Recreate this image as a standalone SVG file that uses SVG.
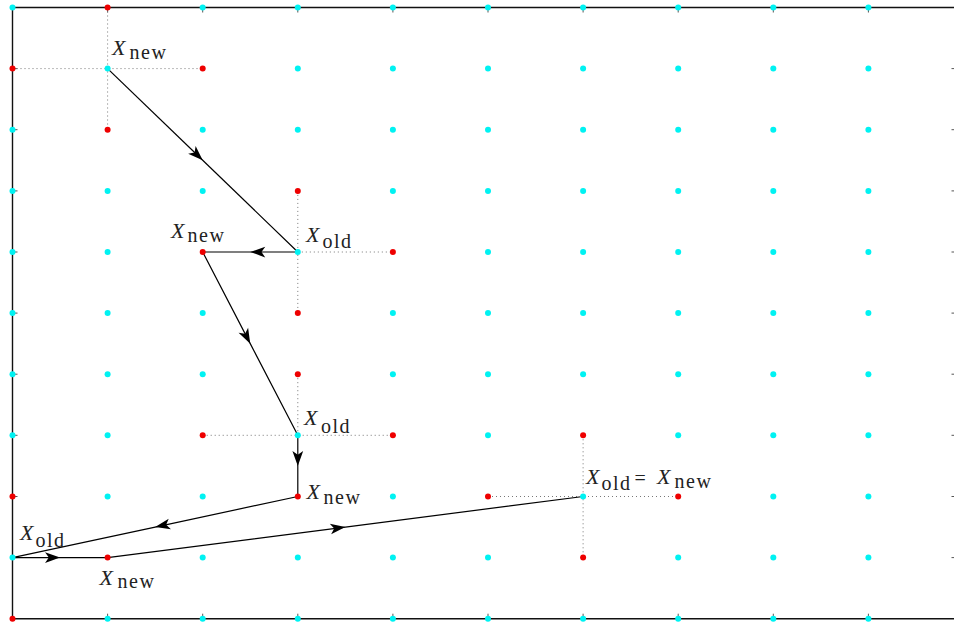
<svg xmlns="http://www.w3.org/2000/svg" width="954" height="623" viewBox="0 0 954 623">
<style>
.ax{stroke:#111;stroke-width:1.4;fill:none}
.tk{stroke:#555;stroke-width:1;fill:none}
.dot{stroke:#777;stroke-width:1;stroke-dasharray:1 3;fill:none}
.c{fill:#00f2f2}
.r{fill:#ee0000}
.ar{stroke:#000;stroke-width:1.2;fill:none;marker-mid:url(#ah)}
.X{font-style:italic;font-size:22px}
.s{letter-spacing:1.5px}
</style>
<defs>
<marker id="ah" markerUnits="userSpaceOnUse" markerWidth="20" markerHeight="20" viewBox="-14 -7 16 14" refX="0" refY="0" orient="auto" overflow="visible">
<path d="M0,0 L-12,-4.3 L-9,0 L-12,4.3 Z" fill="#000"/>
</marker>
</defs>
<rect width="954" height="623" fill="#fff"/>
<g id="axes">
<path class="ax" d="M12.5,7.5 H954 M12.5,7.5 V618.7 M12.5,618.7 H954"/>
<path class="tk" d="M12.5,68.6h5M12.5,129.7h5M12.5,190.9h5M12.5,252h5M12.5,313.1h5M12.5,374.2h5M12.5,435.3h5M12.5,496.5h5M12.5,557.6h5
M951.5,68.6h3M951.5,129.7h3M951.5,190.9h3M951.5,252h3M951.5,313.1h3M951.5,374.2h3M951.5,435.3h3M951.5,496.5h3M951.5,557.6h3
M107.6,7.5v5M202.7,7.5v5M297.8,7.5v5M392.9,7.5v5M488,7.5v5M583.1,7.5v5M678.2,7.5v5M773.3,7.5v5M868.4,7.5v5
M107.6,618.7v-5M202.7,618.7v-5M297.8,618.7v-5M392.9,618.7v-5M488,618.7v-5M583.1,618.7v-5M678.2,618.7v-5M773.3,618.7v-5M868.4,618.7v-5"/>
</g>
<g id="neighbour-lines">
<path class="dot" d="M107.6,7.5V129.7M12.5,68.6H202.7"/>
<path class="dot" d="M297.8,190.9V313.1M297.8,252H392.9"/>
<path class="dot" d="M297.8,374.2V435.3M202.7,435.3H392.9"/>
<path class="dot" d="M583.1,435.3V557.6M488,496.5H678.2"/>
</g>
<g id="connectors">
<path class="ar" d="M107.6,68.6 L202.7,160.3 L297.8,252"/>
<path class="ar" d="M297.8,252 L250.25,252 L202.7,252"/>
<path class="ar" d="M202.7,252 L250.25,343.65 L297.8,435.3"/>
<path class="ar" d="M297.8,435.3 L297.8,465.9 L297.8,496.5"/>
<path class="ar" d="M297.8,496.5 L155.15,527.05 L12.5,557.6"/>
<path class="ar" d="M12.5,557.6 L60.05,557.6 L107.6,557.6"/>
<path class="ar" d="M107.6,557.6 L345.35,527.05 L583.1,496.5"/>
</g>
<g id="grid-points">
<g class="c">
<circle cx="12.5" cy="7.5" r="3"/><circle cx="202.7" cy="7.5" r="3"/><circle cx="297.8" cy="7.5" r="3"/><circle cx="392.9" cy="7.5" r="3"/><circle cx="488" cy="7.5" r="3"/><circle cx="583.1" cy="7.5" r="3"/><circle cx="678.2" cy="7.5" r="3"/><circle cx="773.3" cy="7.5" r="3"/><circle cx="868.4" cy="7.5" r="3"/>
<circle cx="107.6" cy="68.6" r="3"/><circle cx="297.8" cy="68.6" r="3"/><circle cx="392.9" cy="68.6" r="3"/><circle cx="488" cy="68.6" r="3"/><circle cx="583.1" cy="68.6" r="3"/><circle cx="678.2" cy="68.6" r="3"/><circle cx="773.3" cy="68.6" r="3"/><circle cx="868.4" cy="68.6" r="3"/>
<circle cx="12.5" cy="129.7" r="3"/><circle cx="202.7" cy="129.7" r="3"/><circle cx="297.8" cy="129.7" r="3"/><circle cx="392.9" cy="129.7" r="3"/><circle cx="488" cy="129.7" r="3"/><circle cx="583.1" cy="129.7" r="3"/><circle cx="678.2" cy="129.7" r="3"/><circle cx="773.3" cy="129.7" r="3"/><circle cx="868.4" cy="129.7" r="3"/>
<circle cx="12.5" cy="190.9" r="3"/><circle cx="107.6" cy="190.9" r="3"/><circle cx="202.7" cy="190.9" r="3"/><circle cx="392.9" cy="190.9" r="3"/><circle cx="488" cy="190.9" r="3"/><circle cx="583.1" cy="190.9" r="3"/><circle cx="678.2" cy="190.9" r="3"/><circle cx="773.3" cy="190.9" r="3"/><circle cx="868.4" cy="190.9" r="3"/>
<circle cx="12.5" cy="252" r="3"/><circle cx="107.6" cy="252" r="3"/><circle cx="297.8" cy="252" r="3"/><circle cx="488" cy="252" r="3"/><circle cx="583.1" cy="252" r="3"/><circle cx="678.2" cy="252" r="3"/><circle cx="773.3" cy="252" r="3"/><circle cx="868.4" cy="252" r="3"/>
<circle cx="12.5" cy="313.1" r="3"/><circle cx="107.6" cy="313.1" r="3"/><circle cx="202.7" cy="313.1" r="3"/><circle cx="392.9" cy="313.1" r="3"/><circle cx="488" cy="313.1" r="3"/><circle cx="583.1" cy="313.1" r="3"/><circle cx="678.2" cy="313.1" r="3"/><circle cx="773.3" cy="313.1" r="3"/><circle cx="868.4" cy="313.1" r="3"/>
<circle cx="12.5" cy="374.2" r="3"/><circle cx="107.6" cy="374.2" r="3"/><circle cx="202.7" cy="374.2" r="3"/><circle cx="392.9" cy="374.2" r="3"/><circle cx="488" cy="374.2" r="3"/><circle cx="583.1" cy="374.2" r="3"/><circle cx="678.2" cy="374.2" r="3"/><circle cx="773.3" cy="374.2" r="3"/><circle cx="868.4" cy="374.2" r="3"/>
<circle cx="12.5" cy="435.3" r="3"/><circle cx="107.6" cy="435.3" r="3"/><circle cx="297.8" cy="435.3" r="3"/><circle cx="488" cy="435.3" r="3"/><circle cx="678.2" cy="435.3" r="3"/><circle cx="773.3" cy="435.3" r="3"/><circle cx="868.4" cy="435.3" r="3"/>
<circle cx="107.6" cy="496.5" r="3"/><circle cx="202.7" cy="496.5" r="3"/><circle cx="392.9" cy="496.5" r="3"/><circle cx="583.1" cy="496.5" r="3"/><circle cx="773.3" cy="496.5" r="3"/><circle cx="868.4" cy="496.5" r="3"/>
<circle cx="12.5" cy="557.6" r="3"/><circle cx="202.7" cy="557.6" r="3"/><circle cx="297.8" cy="557.6" r="3"/><circle cx="392.9" cy="557.6" r="3"/><circle cx="488" cy="557.6" r="3"/><circle cx="678.2" cy="557.6" r="3"/><circle cx="773.3" cy="557.6" r="3"/><circle cx="868.4" cy="557.6" r="3"/>
<circle cx="107.6" cy="618.7" r="3"/><circle cx="202.7" cy="618.7" r="3"/><circle cx="297.8" cy="618.7" r="3"/><circle cx="392.9" cy="618.7" r="3"/><circle cx="488" cy="618.7" r="3"/><circle cx="583.1" cy="618.7" r="3"/><circle cx="678.2" cy="618.7" r="3"/><circle cx="773.3" cy="618.7" r="3"/><circle cx="868.4" cy="618.7" r="3"/>
</g>
<g class="r">
<circle cx="107.6" cy="7.5" r="3"/><circle cx="12.5" cy="68.6" r="3"/><circle cx="202.7" cy="68.6" r="3"/><circle cx="107.6" cy="129.7" r="3"/>
<circle cx="297.8" cy="190.9" r="3"/><circle cx="202.7" cy="252" r="3"/><circle cx="392.9" cy="252" r="3"/><circle cx="297.8" cy="313.1" r="3"/>
<circle cx="297.8" cy="374.2" r="3"/><circle cx="202.7" cy="435.3" r="3"/><circle cx="392.9" cy="435.3" r="3"/><circle cx="297.8" cy="496.5" r="3"/>
<circle cx="12.5" cy="496.5" r="3"/><circle cx="107.6" cy="557.6" r="3"/><circle cx="12.5" cy="618.7" r="3"/>
<circle cx="583.1" cy="435.3" r="3"/><circle cx="488" cy="496.5" r="3"/><circle cx="678.2" cy="496.5" r="3"/><circle cx="583.1" cy="557.6" r="3"/>
</g>
</g>
<g id="labels" font-family="Liberation Serif, DejaVu Serif, serif" font-size="20" fill="#222">
<g id="lbl-new-1"><text class="X" x="112" y="54.5">X</text><text class="s" x="129.5" y="59">new</text></g>
<g id="lbl-new-2"><text class="X" x="171" y="237.5">X</text><text class="s" x="187.5" y="241.5">new</text></g>
<g id="lbl-old-2"><text class="X" x="306" y="241.7">X</text><text class="s" x="322.5" y="248.3">old</text></g>
<g id="lbl-old-3"><text class="X" x="304" y="425">X</text><text class="s" x="321" y="432.7">old</text></g>
<g id="lbl-new-3"><text class="X" x="306.5" y="499.3">X</text><text class="s" x="323.5" y="504">new</text></g>
<g id="lbl-eq"><text class="X" x="586" y="483.7">X</text><text class="s" x="601.5" y="490.3">old</text><text x="634.5" y="485">=</text><text class="X" x="657" y="483.7">X</text><text class="s" x="674.5" y="487.5">new</text></g>
<g id="lbl-old-4"><text class="X" x="20" y="540">X</text><text class="s" x="35.5" y="546.7">old</text></g>
<g id="lbl-new-4"><text class="X" x="99.5" y="585">X</text><text class="s" x="117.5" y="588">new</text></g>
</g>
</svg>
